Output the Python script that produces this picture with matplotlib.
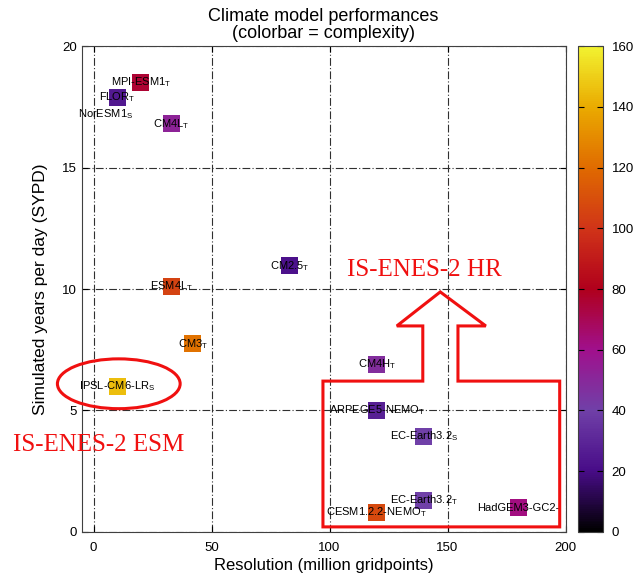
import matplotlib
matplotlib.use('Agg')
import matplotlib.pyplot as plt
import numpy as np
from matplotlib.colors import LinearSegmentedColormap
from matplotlib.patches import Ellipse, Polygon

plt.rcParams['font.family'] = ['Liberation Sans', 'DejaVu Sans']
plt.rcParams['mathtext.fontset'] = 'custom'
plt.rcParams['mathtext.rm'] = 'Liberation Sans'

# model data: name, subscript, resolution, SYPD, complexity
models = ['MPI-ESM1', 'FLOR', 'NorESM1', 'CM4L', 'CM2.5', 'ESM4L', 'CM3',
          'IPSL-CM6-LR', 'CM4H', 'ARPEGE5-NEMO', 'EC-Earth3.2', 'EC-Earth3.2',
          'CESM1.2.2-NEMO', 'HadGEM3-GC2-']
subs = ['T', 'T', 'S', 'T', 'T', 'T', 'T', 'S', 'T', 'T', 'S', 'T', 'T', '']
resolution = [20, 10, 5.3, 33, 83, 33, 42, 10, 120, 120, 140, 140, 120, 180]
sypd = [18.5, 17.9, 17.2, 16.8, 10.95, 10.1, 7.75, 6.0, 6.9, 5.0, 3.95, 1.3, 0.8, 1.0]
complexity = [76, 25, np.nan, 52, 22, 105, 122, 145, 48, 28, 40, 40, 108, 62]

# palette as seen on the colorbar
pal = LinearSegmentedColormap.from_list('pal', [
    (0.0, '#000000'), (0.125, '#480c88'), (0.25, '#7040a8'),
    (0.375, '#a0108c'), (0.5, '#b0001c'), (0.625, '#d03418'),
    (0.75, '#e06a00'), (0.875, '#eaaa00'), (1.0, '#f2f230')])

# annotation shapes (data coords)
ell_center = (10.7, 6.1)
ell_w, ell_h = 52, 2.05
box_x = [139.5, 97.2, 97.2, 197.5, 197.5, 154.4, 154.4, 166.2, 146.9, 128.5, 139.5]
box_y = [6.21, 6.21, 0.21, 0.21, 6.21, 6.21, 8.48, 8.48, 9.88, 8.48, 8.48]

fig = plt.figure(figsize=(6.35, 5.78), dpi=100)
ax = fig.add_axes([0.1287, 0.0796, 0.762, 0.8408])
cax = fig.add_axes([0.9106, 0.0796, 0.0394, 0.8408])

sc = ax.scatter(resolution, sypd, c=complexity, cmap=pal, vmin=0, vmax=160,
                marker='s', s=150, linewidths=0, zorder=3)
for name, sb, x, y in zip(models, subs, resolution, sypd):
    lab = name + ('$_\\mathregular{%s}$' % sb if sb else '')
    ax.text(x, y, lab, ha='center', va='center', fontsize=8, zorder=4)

ax.set_xlim(-5, 200)
ax.set_ylim(0, 20)
ax.set_xticks(np.arange(0, 201, 50))
ax.set_yticks(np.arange(0, 21, 5))
ax.grid(True, color='#303030', linestyle=(0, (7, 2, 1, 2)), linewidth=0.8)
ax.tick_params(direction='in', top=True, right=True, labelsize=9.5, length=4)
ax.tick_params(axis='x', pad=7)
for s in ax.spines.values():
    s.set_color('#404040')
ax.set_xlabel('Resolution (million gridpoints)', fontsize=12, labelpad=3)
ax.set_ylabel('Simulated years per day (SYPD)', fontsize=12.5, labelpad=10)
ax.set_title('Climate model performances\n(colorbar = complexity)', fontsize=13,
             linespacing=1.0, pad=6)

ax.add_patch(Ellipse(ell_center, ell_w, ell_h, fill=False, edgecolor='#f01010',
                     linewidth=2.2, clip_on=False, zorder=5))
ax.add_patch(Polygon(np.column_stack([box_x, box_y]), closed=True, fill=False,
                     edgecolor='#f01010', linewidth=2.2, joinstyle='miter',
                     clip_on=False, zorder=5))
ax.text(140, 10.8, 'IS-ENES-2 HR', color='#f01010', fontsize=18,
        family='Liberation Serif', ha='center', va='center')
ax.text(2.0, 3.58, 'IS-ENES-2 ESM', color='#f01010', fontsize=18,
        family='Liberation Serif', ha='center', va='center')

cb = fig.colorbar(sc, cax=cax, ticks=np.arange(0, 161, 20))
cb.outline.set_edgecolor('#404040')
cax.tick_params(direction='in', left=True, right=True, labelsize=9.5, length=4, pad=6)

fig.savefig('out.png', dpi=100)
